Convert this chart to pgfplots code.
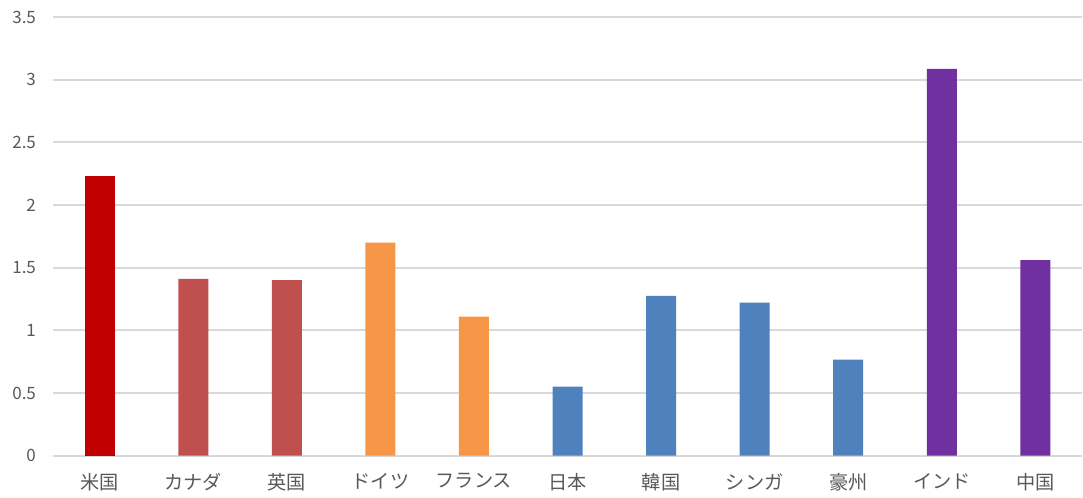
\documentclass[border=0pt]{standalone}
\usepackage{fontspec}
\setmainfont{Noto Sans CJK JP}
\usepackage{pgfplots}
\pgfplotsset{compat=1.18}
\definecolor{usred}{HTML}{C00000}
\definecolor{ltred}{HTML}{C0504D}
\definecolor{orng}{HTML}{F79646}
\definecolor{blu}{HTML}{4F81BD}
\definecolor{purp}{HTML}{7030A0}
\definecolor{grd}{HTML}{D9D9D9}
\definecolor{txt}{HTML}{595959}
\begin{document}
\begin{tikzpicture}
\begin{axis}[
  scale only axis,
  width=515pt, height=219.5pt,
  xmin=-0.5, xmax=10.5,
  ymin=0, ymax=3.5,
  ytick={0,0.5,1,1.5,2,2.5,3,3.5},
  yticklabels={0,0.5,1,1.5,2,2.5,3,3.5},
  xtick={0,...,10},
  xticklabels={米国,カナダ,英国,ドイツ,フランス,日本,韓国,シンガ,豪州,インド,中国},
  ymajorgrids,
  grid style={grd, line width=0.9pt},
  axis line style={draw=none},
  major tick style={draw=none},
  tick label style={font=\fontsize{8.5}{10}\selectfont, text=txt},
  yticklabel style={xshift=-5pt},
  xticklabel style={font=\fontsize{9.6}{11}\selectfont, yshift=-1pt},
  ybar, bar width=15pt, bar shift=0pt,
  clip=false,
]
\addplot[fill=usred, draw=none] coordinates {(0,2.23)};
\addplot[fill=ltred, draw=none] coordinates {(1,1.41) (2,1.40)};
\addplot[fill=orng, draw=none] coordinates {(3,1.70) (4,1.11)};
\addplot[fill=blu, draw=none] coordinates {(5,0.55) (6,1.275) (7,1.22) (8,0.766)};
\addplot[fill=purp, draw=none] coordinates {(9,3.085) (10,1.56)};
\path[use as bounding box] ([xshift=-26.5pt,yshift=-18.5pt]rel axis cs:0,0) rectangle ([yshift=8.5pt]rel axis cs:1,1);
\end{axis}
\end{tikzpicture}
\end{document}
